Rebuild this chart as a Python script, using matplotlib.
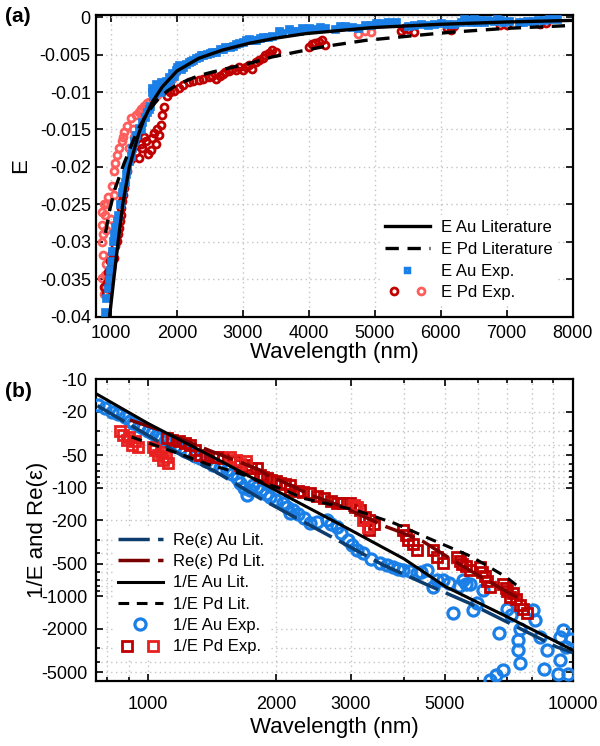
import matplotlib
matplotlib.use('Agg')
import matplotlib.pyplot as plt
from matplotlib.lines import Line2D
from matplotlib.legend_handler import HandlerTuple
from matplotlib.ticker import FixedLocator, FuncFormatter, NullFormatter

plt.rcParams['font.family'] = ['Liberation Sans', 'DejaVu Sans']
plt.rcParams['axes.unicode_minus'] = False

# ---------------- panel (a) data: E vs wavelength ----------------
lam_au_lit_a = [980, 1050, 1110, 1180, 1280, 1420, 1500, 1630, 1780, 2000, 2330, 2690,
                3090, 3500, 3950, 4950, 5970, 6980, 8000]
e_au_lit_a = [-0.0400, -0.0345, -0.0300, -0.0250, -0.0200, -0.0156, -0.0137, -0.0113, -0.0093,
              -0.0072, -0.0055, -0.0044, -0.0035, -0.0028, -0.0022, -0.0014, -0.00096,
              -0.00065, -0.00043]

lam_pd_lit_a = [920, 980, 1060, 1197, 1394, 1550, 1700, 1850, 2005, 2333, 2687, 3090,
                3450, 3900, 4250, 4860, 5670, 6170, 6980, 7500, 8000]
e_pd_lit_a = [-0.0288, -0.0258, -0.0230, -0.0196, -0.0153, -0.0128, -0.0111, -0.0099,
              -0.0090, -0.0078, -0.0070, -0.0062, -0.0053, -0.0045, -0.0039, -0.0031,
              -0.0024, -0.0020, -0.0015, -0.0013, -0.0011]

lam_au_exp_a = [905, 930, 950, 965, 980, 1000, 1015, 1030, 1050, 1070, 1090, 1110, 1140,
                1171, 1190, 1212, 1230, 1247, 1275, 1300, 1325, 1348, 1385, 1424, 1450,
                1475, 1510, 1550, 1580, 1600, 1620, 1626, 1640, 1650, 1677, 1690, 1720,
                1740, 1753, 1780, 1800, 1830, 1853, 1880, 1900, 1930, 1950, 1980, 2000,
                2030, 2060, 2100, 2140, 2180, 2220, 2250, 2290, 2333, 2370, 2400, 2450,
                2500, 2535, 2600, 2650, 2700, 2737, 2800, 2850, 2900, 2939, 3000, 3050,
                3090, 3150, 3200, 3260, 3300, 3380, 3444, 3545, 3600, 3700, 3750, 3850,
                3900, 4000, 4100, 4170, 4250, 4400, 4470, 4550, 4650, 4750, 4850, 4950,
                5020, 5100, 5200, 5320, 5500, 5600, 5700, 5800, 5900, 6000, 6100, 6200,
                6300, 6350, 6400, 6450, 6500, 6550, 6600, 6650, 6700, 6800, 6850, 6900,
                6950, 7030, 7180, 7250, 7300, 7400, 7480, 7560, 7640, 7760]
e_au_exp_a = [-0.0394, -0.0375, -0.0362, -0.0350, -0.0338, -0.0325, -0.0312, -0.0299,
              -0.0290, -0.0280, -0.0272, -0.0264, -0.0250, -0.0233, -0.0226, -0.0220,
              -0.0210, -0.0202, -0.0192, -0.0185, -0.0175, -0.0166, -0.0158, -0.0148,
              -0.0150, -0.0140, -0.0133, -0.0126, -0.0122, -0.0118, -0.0100, -0.0095,
              -0.0105, -0.0102, -0.0089, -0.0098, -0.0093, -0.0100, -0.0086, -0.0095,
              -0.0090, -0.0085, -0.0089, -0.0080, -0.0084, -0.0075, -0.0078, -0.0070,
              -0.0066, -0.0064, -0.0069, -0.0066, -0.0062, -0.0060, -0.0058, -0.0057,
              -0.0055, -0.0053, -0.0050, -0.0051, -0.0049, -0.0048, -0.0046, -0.0047,
              -0.0043, -0.0042, -0.0040, -0.0040, -0.0038, -0.0036, -0.0035, -0.0033,
              -0.0031, -0.0029, -0.0030, -0.0030, -0.0028, -0.0027, -0.0026, -0.0025,
              -0.0019, -0.0021, -0.0016, -0.0019, -0.0018, -0.0015, -0.0015, -0.0016,
              -0.0013, -0.0014, -0.0016, -0.0012, -0.0012, -0.0013, -0.0014, -0.0011,
              -0.0010, -0.0008, -0.0008, -0.0007, -0.0007, -0.0012, -0.0010, -0.0009,
              -0.0010, -0.0009, -0.0008, -0.0009, -0.0009, -0.0006, -0.0003, -0.0004,
              -0.0007, -0.0003, -0.0007, -0.0004, -0.0007, -0.0004, -0.0005, -0.0002,
              -0.0004, -0.0006, -0.0005, -0.0007, -0.0006, -0.0005, -0.0005, -0.0004,
              -0.0004, -0.0003, -0.0002]

lam_pd_exp_a1 = [900, 920, 935, 950, 970, 985, 995, 1020, 1045, 1070, 1095, 1110, 1121,
                 1135, 1147, 1160, 1171, 1185, 1197, 1250, 1300, 1380, 1424, 1450, 1475,
                 1500, 1525, 1560, 1601, 1626, 1650, 1677, 1700, 1727, 1753, 1775, 1800,
                 1850, 1900, 1960, 2030, 2100, 2182, 2250, 2333, 2400, 2485, 2540, 2586,
                 2650, 2700, 2737, 2790, 2838, 2890, 2939, 3000, 3050, 3090, 3136, 3200,
                 3242, 3300, 3343, 3400, 3444, 3500, 4000, 4050, 4100, 4150, 4200, 4250,
                 5400, 5450, 5500, 5600, 6100, 6150, 6200, 6900, 7000, 7500, 7600]
e_pd_exp_a1 = [-0.0360, -0.0370, -0.0355, -0.0340, -0.0348, -0.0325, -0.0335, -0.0315,
               -0.0321, -0.0305, -0.0299, -0.0290, -0.0281, -0.0272, -0.0264, -0.0255,
               -0.0246, -0.0238, -0.0228, -0.0205, -0.0190, -0.0180, -0.0188, -0.0170,
               -0.0175, -0.0160, -0.0166, -0.0183, -0.0177, -0.0162, -0.0155, -0.0170,
               -0.0150, -0.0157, -0.0144, -0.0130, -0.0120, -0.0105, -0.0100, -0.0098,
               -0.0095, -0.0090, -0.0086, -0.0085, -0.0084, -0.0082, -0.0080, -0.0078,
               -0.0082, -0.0078, -0.0076, -0.0073, -0.0072, -0.0069, -0.0070, -0.0066,
               -0.0070, -0.0067, -0.0064, -0.0069, -0.0060, -0.0057, -0.0055, -0.0051,
               -0.0048, -0.0044, -0.0047, -0.0040, -0.0036, -0.0035, -0.0033, -0.0030,
               -0.0037, -0.0018, -0.0015, -0.0016, -0.0020, -0.0014, -0.0017, -0.0012,
               -0.0010, -0.0011, -0.0009, -0.0008]

lam_pd_exp_a2 = [860, 865, 868, 872, 879, 885, 894, 900, 909, 909, 915, 920, 929, 944, 960,
                 1000, 1020, 1045, 1045, 1070, 1095, 1130, 1162, 1180, 1197, 1240, 1273,
                 1298, 1330, 1350, 1380, 1424, 1460, 1500, 1540, 1576, 1650, 1700, 1727,
                 1780, 1829, 1880, 1929, 1980, 4750, 4850, 4950]
e_pd_exp_a2 = [-0.0278, -0.0300, -0.0348, -0.0260, -0.0317, -0.0290, -0.0370, -0.0250,
               -0.0359, -0.0264, -0.0345, -0.0330, -0.0284, -0.0250, -0.0240, -0.0270,
               -0.0225, -0.0237, -0.0206, -0.0195, -0.0184, -0.0175, -0.0166, -0.0160,
               -0.0153, -0.0145, -0.0175, -0.0135, -0.0150, -0.0160, -0.0130, -0.0126,
               -0.0122, -0.0118, -0.0115, -0.0113, -0.0108, -0.0104, -0.0100, -0.0097,
               -0.0095, -0.0088, -0.0082, -0.0073, -0.0022, -0.0019, -0.0020]

# ---------------- panel (b) data: 1/E and Re(eps) ----------------
lam_au_lit_b = [753, 1000, 1500, 2280, 3000, 4000, 5020, 7000, 10000]
inv_au_lit_b = [-13.5, -25.5, -58, -139, -245, -450, -815, -1542, -3130]

lam_pd_lit_b = [915, 1130, 1255, 1380, 1530, 1700, 1900, 2060, 2322, 3090, 3813, 4609,
                5670, 6170, 6980, 7446]
inv_pd_lit_b = [-34, -45.5, -52.6, -60.5, -67.8, -77, -92, -102, -125, -161, -213, -295,
                -417, -500, -667, -815]

lam_re_au = [760, 1200, 1425, 1835, 2280, 2835, 3575, 4531, 5717, 7117, 9150, 10000]
re_au = [-17.5, -50, -69, -125, -198, -313, -513, -780, -1160, -1780, -2920, -3300]

lam_re_pd = [907, 1067, 1210, 1450, 1560, 1835, 1904, 2159, 2405, 2884, 3100, 3643, 3915,
             4447, 5126, 6153, 7446]
re_pd = [-23.7, -29.4, -36.2, -48.1, -53.5, -68.6, -76, -94, -116, -150, -172, -229, -254,
         -313, -445, -682, -1038]

lam_au_exp_b = [764, 790, 821, 850, 883, 905, 923, 950, 975, 1000, 1020, 1045, 1067, 1095,
                1127, 1160, 1190, 1220, 1255, 1290, 1325, 1370, 1425, 1480, 1531, 1580,
                1620, 1647, 1680, 1708, 1740, 1770, 1801, 1850, 1900, 1937, 2000, 2082,
                2130, 2159, 2199, 2260, 2330, 2405, 2500, 2632, 2700, 2780, 2850, 2950,
                3020, 3100, 3200, 3350, 3515, 3650, 3780, 3880, 3990, 4150, 4290, 4400,
                4531, 4695, 4800, 4948, 5100, 5234, 5400, 5524, 5620, 5717, 5820, 5940,
                6153, 6390, 6610, 6720, 6850, 6990, 7150, 7440, 7440, 7505, 7505, 8080,
                8160, 8370, 8540, 8710, 9230, 9340, 9340, 9490, 9650, 9740, 9900]
inv_au_exp_b = [-17.3, -18.5, -19.9, -21, -22.1, -24, -25.4, -27, -28.3, -30, -31.5, -33,
                -35, -37, -38.9, -41, -43.3, -46, -48.1, -51, -53.5, -57, -61.5, -65, -68.6,
                -75, -82, -90.9, -100, -116, -105, -95, -97.9, -105, -113, -121, -130,
                -139, -150, -172, -160, -175, -190, -213, -205, -198, -215, -229, -260,
                -300, -340, -372, -400, -450, -495, -520, -532, -555, -571, -590, -614,
                -600, -571, -815, -700, -709, -760, -1437, -800, -709, -763, -763, -1335,
                -1160, -871, -5900, -5300, -2200, -4800, -1300, -1500, -2530, -3130, -2000,
                -4160, -1335, -1660, -2370, -4640, -3130, -5160, -2370, -3900, -2050, -2920,
                -5160, -2500]

lam_pd_exp_b1 = [1106, 1140, 1180, 1220, 1256, 1290, 1326, 1370, 1420, 1460, 1505, 1600,
                 1650, 1700, 1750, 1801, 1835, 1870, 1910, 1950, 2000, 2050, 2100, 2159,
                 2159, 2250, 2320, 2405, 2500, 2600, 2700, 2780, 2880, 2990, 3070, 3150,
                 3250, 3322, 3322, 3400, 3990, 4050, 4100, 4200, 4290, 4695, 4800, 4948,
                 5333, 5420, 5500, 5600, 5717, 6043, 6100, 6200, 6300, 6393, 6854, 6950,
                 7000, 7117, 7220, 7350, 7500, 7650, 7800]
inv_pd_exp_b1 = [-34.7, -36, -37, -39, -40.3, -45, -50, -51, -52, -52, -53, -57, -62, -62,
                 -65, -66, -76, -79, -82, -84, -87, -90, -92, -94, -104, -106, -110, -112,
                 -118, -125, -132, -139, -139, -139, -150, -160, -185, -200, -245, -215,
                 -245, -270, -300, -330, -372, -372, -430, -495, -430, -470, -500, -530,
                 -571, -532, -600, -650, -720, -815, -763, -830, -900, -1007, -940, -1050,
                 -1200, -1300, -1437]

lam_pd_exp_b2 = [860, 875, 891, 900, 915, 930, 949, 1030, 1039, 1058, 1070, 1087, 1100,
                 1117, 1560, 1610, 1650, 1700, 3050, 3100, 3200, 3300]
inv_pd_exp_b2 = [-30, -32.6, -36.2, -34, -40.3, -37, -41.8, -42, -44.8, -50, -47, -55.4,
                 -52, -59.5, -52, -55, -60, -56, -145, -150, -200, -230]

xticks_b = [1000, 2000, 3000, 5000, 10000]
yticks_b = [10, 20, 50, 100, 200, 500, 1000, 2000, 5000]

# colours
c_blue = '#1a7fe6'
c_dred = '#c00000'
c_lred = '#ff5c5c'
c_red = '#e82020'
c_navy = '#0d3d6e'
c_maroon = '#7a0000'

fig = plt.figure(figsize=(6.0, 7.46), dpi=100)
ax1 = fig.add_axes([0.1595, 0.5755, 0.795, 0.4045])
ax2 = fig.add_axes([0.1595, 0.0875, 0.795, 0.404])

grid_kw = dict(color='#c4c4c4', linestyle=(0, (1, 2.5)), linewidth=1.0)

# ---- panel (a)
ax1.plot(lam_pd_exp_a2, e_pd_exp_a2, 'o', ms=5, mfc='none', mec=c_lred, mew=2, zorder=3)
ax1.plot(lam_pd_exp_a1, e_pd_exp_a1, 'o', ms=5, mfc='none', mec=c_dred, mew=2, zorder=3)
ax1.plot(lam_au_exp_a, e_au_exp_a, 's', ms=5.5, mfc=c_blue, mec=c_blue, mew=0.5, zorder=4)
ax1.plot(lam_au_lit_a, e_au_lit_a, '-', color='black', lw=2.4, zorder=5)
ax1.plot(lam_pd_lit_a, e_pd_lit_a, color='black', lw=2.4, dashes=(4, 2.6), zorder=5)

ax1.set_xlim(770, 8000)
ax1.set_ylim(-0.04, 0.0003)
ax1.set_xticks(range(1000, 8001, 1000))
ax1.set_yticks([0, -0.005, -0.01, -0.015, -0.02, -0.025, -0.03, -0.035, -0.04])
ax1.yaxis.set_major_formatter(FuncFormatter(lambda v, p: '%g' % v if v != 0 else '0'))
ax1.grid(True, **grid_kw)
ax1.set_axisbelow(True)
ax1.set_xlabel('Wavelength (nm)', fontsize=16, labelpad=0)
ax1.set_ylabel('E', fontsize=16, labelpad=6)

h_a = [Line2D([], [], color='black', lw=2.4),
       Line2D([], [], color='black', lw=2.4, dashes=(4, 2.6)),
       Line2D([], [], ls='none', marker='s', ms=3.5, mfc='white', mec=c_blue, mew=2.5),
       (Line2D([], [], ls='none', marker='o', ms=5, mfc='none', mec=c_dred, mew=2),
        Line2D([], [], ls='none', marker='o', ms=5, mfc='none', mec=c_lred, mew=2))]
lab_a = ['E Au Literature', 'E Pd Literature', 'E Au Exp.', 'E Pd Exp.']
leg1 = ax1.legend(h_a, lab_a, loc='lower right', bbox_to_anchor=(0.985, 0.01),
                  fontsize=12, handlelength=2.7, handletextpad=0.65, labelspacing=0.4,
                  frameon=True, framealpha=1, edgecolor='none', borderpad=0.3,
                  handler_map={tuple: HandlerTuple(ndivide=None, pad=0.5)})

# ---- panel (b): plotted as magnitude on log axes, labelled negative
def mag(vals):
    return [-v for v in vals]

ax2.plot(lam_au_exp_b, mag(inv_au_exp_b), 'o', ms=8, mfc='none', mec=c_blue, mew=2.3, zorder=3)
ax2.plot(lam_pd_exp_b1, mag(inv_pd_exp_b1), 's', ms=7.5, mfc='none', mec=c_dred, mew=2, zorder=3)
ax2.plot(lam_pd_exp_b2, mag(inv_pd_exp_b2), 's', ms=7.5, mfc='none', mec=c_red, mew=2, zorder=3)
ax2.plot(lam_re_au, mag(re_au), color=c_navy, lw=2.5, dashes=(9, 2.4), zorder=4)
ax2.plot(lam_re_pd, mag(re_pd), color=c_maroon, lw=2.5, dashes=(9, 2.4), zorder=4)
ax2.plot(lam_au_lit_b, mag(inv_au_lit_b), '-', color='black', lw=2.2, zorder=5)
ax2.plot(lam_pd_lit_b, mag(inv_pd_lit_b), color='black', lw=2.2, dashes=(3.5, 2.5), zorder=5)

ax2.set_xscale('log')
ax2.set_yscale('log')
ax2.set_xlim(753, 10000)
ax2.set_ylim(10, 6000)
ax2.invert_yaxis()
ax2.xaxis.set_major_locator(FixedLocator(xticks_b))
ax2.xaxis.set_major_formatter(FuncFormatter(lambda v, p: '%d' % v))
ax2.xaxis.set_minor_formatter(NullFormatter())
ax2.yaxis.set_major_locator(FixedLocator(yticks_b))
ax2.yaxis.set_major_formatter(FuncFormatter(lambda v, p: '-%d' % v))
ax2.yaxis.set_minor_formatter(NullFormatter())
ax2.grid(True, which='both', **grid_kw)
ax2.set_axisbelow(True)
ax2.set_xlabel('Wavelength (nm)', fontsize=16, labelpad=3)
ax2.set_ylabel('1/E and Re(ε)', fontsize=16, labelpad=-5)

h_b = [Line2D([], [], color=c_navy, lw=2.5, dashes=(9, 2.4)),
       Line2D([], [], color=c_maroon, lw=2.5, dashes=(9, 2.4)),
       Line2D([], [], color='black', lw=2.2),
       Line2D([], [], color='black', lw=2.2, dashes=(3.5, 2.5)),
       Line2D([], [], ls='none', marker='o', ms=8, mfc='none', mec=c_blue, mew=2.3),
       (Line2D([], [], ls='none', marker='s', ms=7, mfc='none', mec=c_dred, mew=2),
        Line2D([], [], ls='none', marker='s', ms=7, mfc='none', mec=c_red, mew=2))]
lab_b = ['Re(ε) Au Lit.', 'Re(ε) Pd Lit.', '1/E Au Lit.', '1/E Pd Lit.',
         '1/E Au Exp.', '1/E Pd Exp.']
leg2 = ax2.legend(h_b, lab_b, loc='upper left', bbox_to_anchor=(0.018, 0.535),
                  fontsize=12, handlelength=2.7, handletextpad=0.65, labelspacing=0.38,
                  frameon=True, framealpha=1, edgecolor='none', borderpad=0.3,
                  handler_map={tuple: HandlerTuple(ndivide=None, pad=0.5)})

for ax in (ax1, ax2):
    for s in ax.spines.values():
        s.set_linewidth(1.6)
    ax.tick_params(which='both', direction='in', top=True, right=True, labelsize=13,
                   width=1.2)
    ax.tick_params(which='major', length=5)
    ax.tick_params(which='minor', length=3)
ax1.tick_params(axis='x', pad=6)
ax2.tick_params(axis='x', pad=11)
ax2.tick_params(axis='y', pad=6)

fig.text(0.008, 0.971, '(a)', fontsize=15, fontweight='bold')
fig.text(0.008, 0.468, '(b)', fontsize=15, fontweight='bold')

fig.savefig('out.png', dpi=100)
